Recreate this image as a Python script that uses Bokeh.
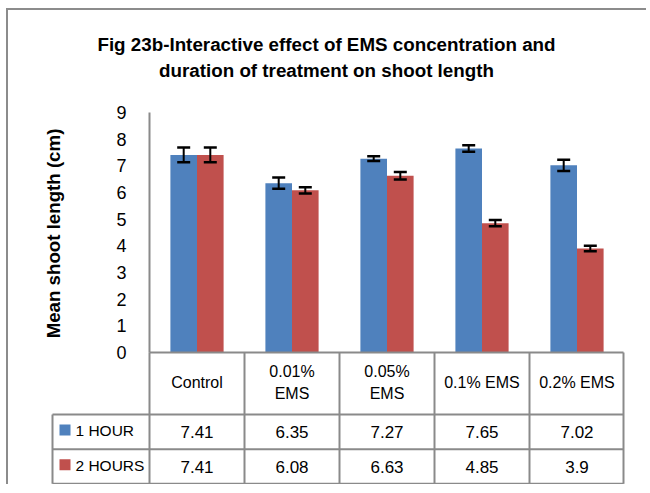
import math
from bokeh.plotting import figure
from bokeh.models import ColumnDataSource, Range1d, Whisker, TeeHead
from bokeh.transform import dodge
from bokeh.core.properties import value
from bokeh.embed import file_html
from bokeh.resources import INLINE

# ---------------- data ----------------
title_lines = ["Fig 23b-Interactive effect of EMS concentration and",
               "duration of treatment on shoot length"]
y_label = "Mean shoot length (cm)"
categories = ["Control", "0.01% EMS", "0.05% EMS", "0.1% EMS", "0.2% EMS"]
header_labels = ["Control", "0.01%\nEMS", "0.05%\nEMS", "0.1% EMS", "0.2% EMS"]
series = ["1 HOUR", "2 HOURS"]
hour1 = [7.41, 6.35, 7.27, 7.65, 7.02]
hour2 = [7.41, 6.08, 6.63, 4.85, 3.9]
err1 = [0.28, 0.21, 0.09, 0.12, 0.21]
err2 = [0.28, 0.12, 0.14, 0.12, 0.10]
y_ticks = [0, 1, 2, 3, 4, 5, 6, 7, 8, 9]
colors = ["#4F81BD", "#C0504D"]

# ---------------- style / geometry (page px) ----------------
SANS = "Liberation Sans"
GRID = "#8a8a8a"
OX, OY = 8, 10                 # content origin on the page
W, H = 640, 476
PLOT_L, PLOT_R = 149, 624      # bar area (page x)
PLOT_T, ZERO_Y = 112, 352      # bar area (page y)
HDR_B, R1_B, R2_B = 414, 448.7, 483.3
LEG_LX = 52
ncat = len(categories)
CAT_PX = (PLOT_R - PLOT_L) / ncat
Y_TOP = y_ticks[-1]
PXU = (ZERO_Y - PLOT_T) / Y_TOP


def ux(px):   # page x -> category units
    return (px - PLOT_L) / CAT_PX


def uy(py):   # page y -> value units
    return (ZERO_Y - py) / PXU


p = figure(width=W, height=H, x_range=Range1d(ux(OX), ux(OX + W)),
           y_range=Range1d(uy(OY + H), uy(OY)), output_backend="svg",
           toolbar_location=None, min_border=0, x_axis_location=None, y_axis_location=None)
p.outline_line_color = None
p.grid.visible = False

# ---------------- title ----------------
p.text(x=[ux(326)] * 2, y=[uy(44), uy(70)], text=title_lines, text_align="center",
       text_baseline="middle", text_font=value(SANS), text_font_style="bold",
       text_font_size="18.8px", text_color="black")

# ---------------- value axis ----------------
p.segment(x0=[0], y0=[y_ticks[0]], x1=[0], y1=[Y_TOP], line_color=GRID, line_width=2)
p.text(x=[ux(126)] * len(y_ticks), y=y_ticks, text=[str(v) for v in y_ticks],
       text_align="right", text_baseline="middle", text_font=value(SANS),
       text_font_size="18px", text_color="black")
p.text(x=[ux(53)], y=[uy(233)], text=[y_label], angle=math.pi / 2, text_align="center",
       text_baseline="middle", text_font=value(SANS), text_font_style="bold",
       text_font_size="18.7px", text_color="black")

# ---------------- bars + error bars ----------------
xi = [i + 0.5 for i in range(ncat)]
src = ColumnDataSource(dict(
    xi=xi, cat=categories, h1=hour1, h2=hour2,
    h1_lo=[v - e for v, e in zip(hour1, err1)], h1_hi=[v + e for v, e in zip(hour1, err1)],
    h2_lo=[v - e for v, e in zip(hour2, err2)], h2_hi=[v + e for v, e in zip(hour2, err2)],
))
OFF, BW = 0.14, 0.28
for key, off, col in (("h1", -OFF, colors[0]), ("h2", OFF, colors[1])):
    p.vbar(x=dodge("xi", off), top=key, width=BW, source=src,
           fill_color=col, line_color=None)
for key, off in (("h1", -OFF), ("h2", OFF)):
    w = Whisker(source=src, base=dodge("xi", off), upper=key + "_hi", lower=key + "_lo",
                line_color="black", line_width=2, level="overlay")
    w.upper_head = TeeHead(size=13, line_width=2.5, line_color="black")
    w.lower_head = TeeHead(size=13, line_width=2.5, line_color="black")
    p.add_layout(w)

# ---------------- data table ----------------
RIGHT = ncat - 1 / CAT_PX
LEG_L = ux(LEG_LX)
vx = [0, 1, 2, 3, 4, RIGHT]
p.segment(x0=vx, y0=[0] * len(vx), x1=vx, y1=[uy(R2_B)] * len(vx), line_color=GRID, line_width=2)
p.segment(x0=[0], y0=[0], x1=[RIGHT], y1=[0], line_color=GRID, line_width=2)
p.segment(x0=[LEG_L], y0=[uy(HDR_B)], x1=[LEG_L], y1=[uy(R2_B)], line_color=GRID, line_width=2)
hy = [uy(HDR_B), uy(R1_B), uy(R2_B)]
p.segment(x0=[LEG_L] * 3, y0=hy, x1=[RIGHT] * 3, y1=hy, line_color=GRID, line_width=2)

p.text(x=xi, y=[uy(382)] * ncat, text=header_labels, text_align="center",
       text_baseline="middle", text_font=value(SANS), text_font_size="16px",
       text_color="black", text_line_height=1.3)

row_y = [(HDR_B + R1_B) / 2, (R1_B + R2_B) / 2]
for vals, ry in zip((hour1, hour2), row_y):
    p.text(x=xi, y=[uy(ry)] * ncat, text=[str(v) for v in vals],
           text_align="center", text_baseline="middle", text_font=value(SANS),
           text_font_size="17px", text_color="black")
p.scatter(x=[ux(64.5)] * 2, y=[uy(ry - 1.8) for ry in row_y], marker="square", size=11,
          fill_color=colors, line_color=None)
p.text(x=[ux(75)] * 2, y=[uy(ry - 1.5) for ry in row_y], text=series, text_align="left",
       text_baseline="middle", text_font=value(SANS), text_font_size="15.5px",
       text_color="black")

p.styles = {"margin-left": "6px", "margin-top": "8px",
            "border-left": "2px solid #8c8c8c", "border-top": "2px solid #8c8c8c"}

open("out.html", "w").write(file_html(p, INLINE))
